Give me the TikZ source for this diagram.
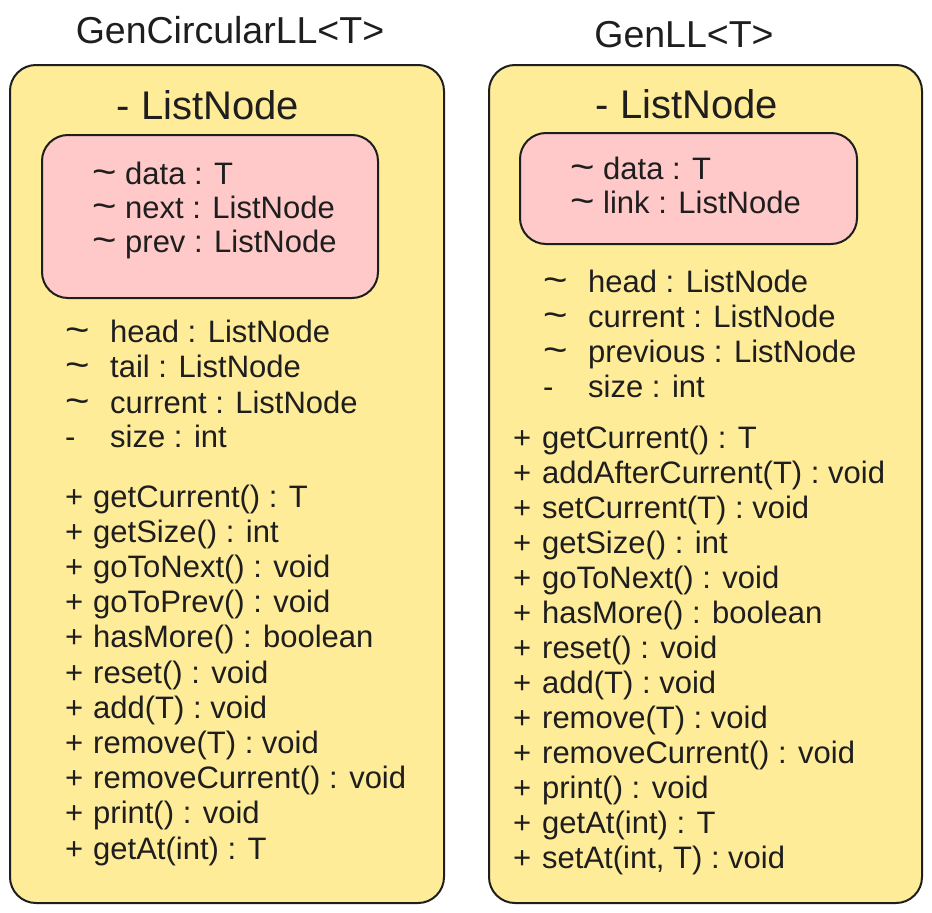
\documentclass[tikz,border=0pt]{standalone}
\usepackage{graphicx}
\usepackage{fontspec}
\setmainfont{Liberation Sans}
\definecolor{ink}{HTML}{1E1E1E}
\definecolor{ylw}{HTML}{FFEC99}
\definecolor{pnk}{HTML}{FFC9C9}
\newcommand{\pre}[2]{\makebox[#1][l]{#2}}
\newcommand{\tld}{\scalebox{1.35}[1.2]{\textasciitilde}}
\begin{document}
\begin{tikzpicture}[x=1pt,y=-1pt,
  panel/.style={draw=ink, line width=2pt, rounded corners=26pt, inner sep=0pt},
  ttl/.style={text=ink, font=\fontsize{37.5}{42}\selectfont, inner sep=0pt, anchor=base},
  sub/.style={text=ink, font=\fontsize{40}{44}\selectfont, inner sep=0pt, anchor=base},
  row/.style={text=ink, font=\fontsize{31}{36}\selectfont, inner sep=0pt, anchor=base west}]
\useasboundingbox (0,0) rectangle (932,913);
\fill[white] (0,0) rectangle (932,913);
% panels
\node[panel, fill=ylw, minimum width=434pt, minimum height=838pt] (lbox) at (227,484) {};
\node[panel, fill=ylw, minimum width=433pt, minimum height=838pt] (rbox) at (705.5,484) {};
\node[panel, fill=pnk, minimum width=336pt, minimum height=163pt] (lpink) at (210,216.5) {};
\node[panel, fill=pnk, minimum width=337pt, minimum height=111pt] (rpink) at (688.5,188.5) {};
% titles
\node[ttl] (ltitle) at (230,43) {GenCircularLL<T>};
\node[ttl] (rtitle) at (684,47) {GenLL<T>};
\node[sub] (lsub) at (208,119) {- ListNode};
\node[sub] (rsub) at (687,118) {- ListNode};
% left inner fields
\node[row] (lp1) at (92,184) {\pre{33pt}{\tld}data : T};
\node[row] (lp2) at (92,218) {\pre{33pt}{\tld}next : ListNode};
\node[row] (lp3) at (92,252) {\pre{33pt}{\tld}prev : ListNode};
% left fields
\node[row] (lf1) at (65,342) {\pre{45pt}{\tld}head : ListNode};
\node[row] (lf2) at (65,377) {\pre{45pt}{\tld}tail : ListNode};
\node[row] (lf3) at (65,413) {\pre{45pt}{\tld}current : ListNode};
\node[row] (lf4) at (65,447) {\pre{45pt}{-}size : int};
% left methods
\foreach \t [count=\i] in {getCurrent() : T, getSize() : int, goToNext() : void, goToPrev() : void, hasMore() : boolean, reset() : void, add(T) : void, remove(T) : void, removeCurrent() : void, print() : void, getAt(int) : T}
  \node[row] (lm\i) at (65,{507+35.2*(\i-1)}) {\pre{28pt}{+}\t};
% right inner fields
\node[row] (rp1) at (570,179) {\pre{33pt}{\tld}data : T};
\node[row] (rp2) at (570,213) {\pre{33pt}{\tld}link : ListNode};
% right fields
\node[row] (rf1) at (543,292) {\pre{45pt}{\tld}head : ListNode};
\node[row] (rf2) at (543,327) {\pre{45pt}{\tld}current : ListNode};
\node[row] (rf3) at (543,362) {\pre{45pt}{\tld}previous : ListNode};
\node[row] (rf4) at (543,397) {\pre{45pt}{-}size : int};
% right methods
\foreach \t [count=\i] in {getCurrent() : T, addAfterCurrent(T) : void, setCurrent(T) : void, getSize() : int, goToNext() : void, hasMore() : boolean, reset() : void, add(T) : void, remove(T) : void, removeCurrent() : void, print() : void, getAt(int) : T, {setAt(int, T) : void}}
  \node[row] (rm\i) at (513,{448+35*(\i-1)}) {\pre{29pt}{+}\t};
\end{tikzpicture}
\end{document}
